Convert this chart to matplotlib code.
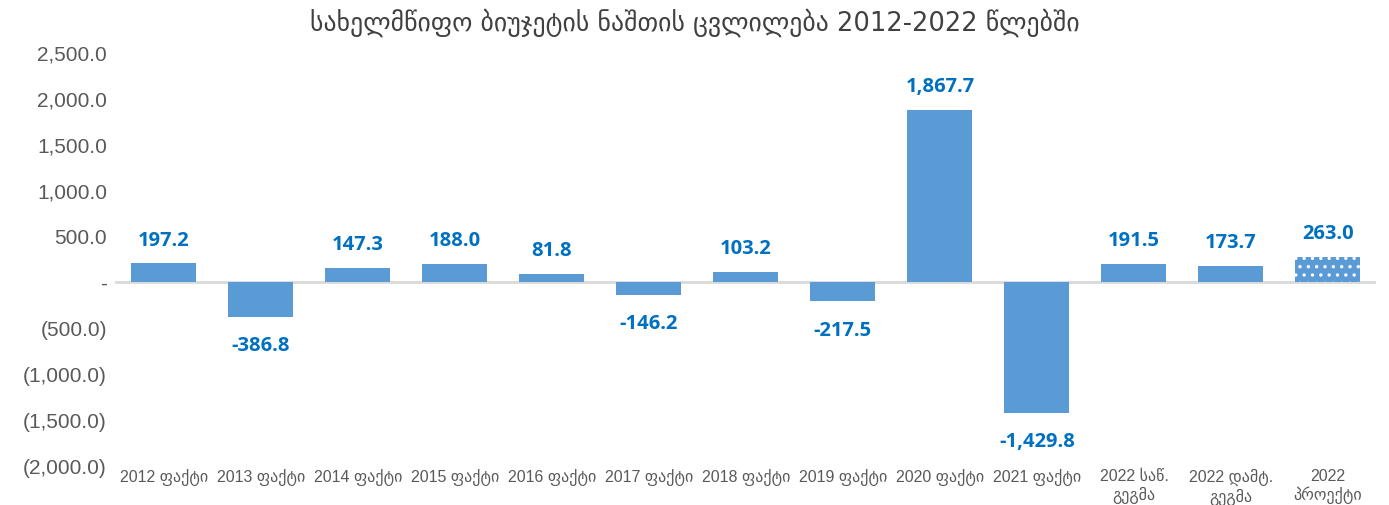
import numpy as np
import matplotlib.pyplot as plt
from matplotlib.ticker import FuncFormatter

plt.rcParams['font.family'] = ['Liberation Sans', 'DejaVu Sans']
plt.rcParams['hatch.linewidth'] = 1.2

categories = ["2012 ფაქტი", "2013 ფაქტი", "2014 ფაქტი", "2015 ფაქტი", "2016 ფაქტი",
              "2017 ფაქტი", "2018 ფაქტი", "2019 ფაქტი", "2020 ფაქტი", "2021 ფაქტი",
              "2022 საწ.\nგეგმა", "2022 დამტ.\nგეგმა", "2022\nპროექტი"]
values = [197.2, -386.8, 147.3, 188.0, 81.8, -146.2, 103.2, -217.5, 1867.7, -1429.8,
          191.5, 173.7, 263.0]
title = "სახელმწიფო ბიუჯეტის ნაშთის ცვლილება 2012-2022 წლებში"

blue = "#5B9BD5"
label_blue = "#0070C0"
grey = "#595959"

fig = plt.figure(figsize=(13.89, 5.06), dpi=100)
ax = fig.add_axes([0.083, 0.079, 0.908, 0.816])

x = np.arange(len(values))
bars = ax.bar(x, values, width=0.67, color=blue, linewidth=0)
# last bar is the projection - dotted fill
bars[-1].set_hatch('..')
bars[-1].set_edgecolor('white')

ax.axhline(0, color="#D9D9D9", linewidth=2, zorder=0)

for xi, v in zip(x, values):
    if v >= 0:
        ax.annotate(f"{v:,.1f}", (xi, v), xytext=(0, 10), textcoords="offset points",
                    ha="center", va="bottom", fontsize=14.5, fontweight="bold",
                    color=label_blue, family="Open Sans")
    else:
        ax.annotate(f"{v:,.1f}", (xi, v), xytext=(0, -13), textcoords="offset points",
                    ha="center", va="top", fontsize=14.5, fontweight="bold",
                    color=label_blue, family="Open Sans")


def fmt(val, pos):
    if abs(val) < 1e-9:
        return "-"
    if val < 0:
        return f"({-val:,.1f})"
    return f"{val:,.1f}"


ax.set_ylim(-2000, 2500)
ax.set_xlim(-0.5, len(values) - 0.5)
ax.set_yticks(np.arange(-2000, 2501, 500))
ax.yaxis.set_major_formatter(FuncFormatter(fmt))
ax.tick_params(axis='y', length=0, labelsize=15, labelcolor=grey, pad=6)
ax.tick_params(axis='x', length=0, labelsize=11.5, labelcolor=grey, pad=2)
ax.set_xticks(x)
ax.set_xticklabels(categories, linespacing=1.2)
for s in ax.spines.values():
    s.set_visible(False)

fig.text(0.5, 0.955, title, ha="center", va="center", fontsize=18.5, color="#404040",
         family="DejaVu Sans")

fig.savefig("out.png", dpi=100)
